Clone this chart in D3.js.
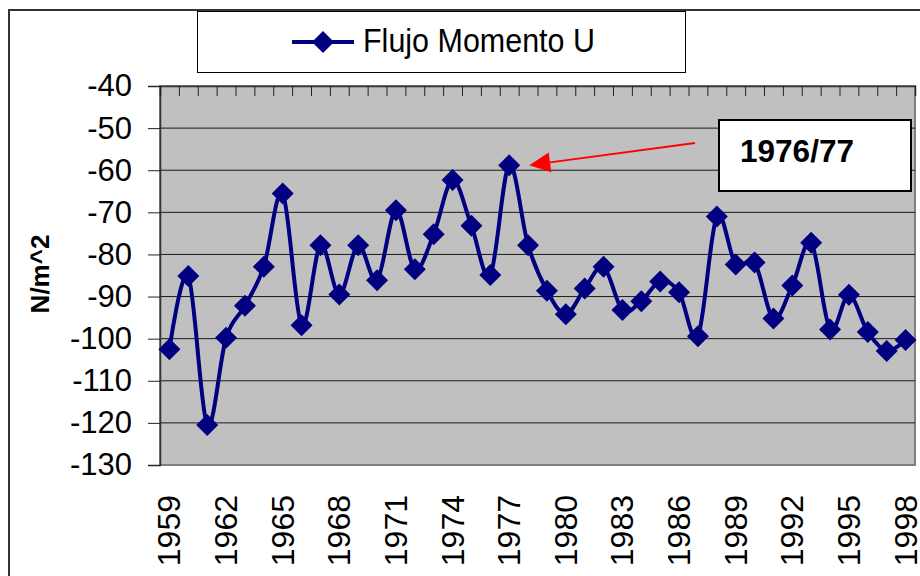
<!DOCTYPE html>
<html>
<head>
<meta charset="utf-8">
<script src="https://cdn.jsdelivr.net/npm/d3@7"></script>
<style>
  html, body { margin: 0; padding: 0; background: #fff; }
  svg { display: block; font-family: "Liberation Sans", Arial, sans-serif; }
</style>
</head>
<body>
<svg id="chart" width="920" height="576"></svg>
<script>
// Annual momentum flux (U component), N/m^2
const years = d3.range(1959, 1999);
const fluxU = [
  -102.5, -85.1, -120.5, -99.8, -92.2, -82.9, -65.5, -96.8, -77.8, -89.5,
  -77.8, -86.1, -69.5, -83.5, -75.2, -62.3, -73.2, -84.9, -58.8, -77.8,
  -88.6, -94.2, -88.1, -82.9, -93.2, -91.1, -86.4, -89.0, -99.4, -71.0,
  -82.4, -81.9, -95.2, -87.4, -77.2, -97.8, -89.6, -98.4, -102.9, -100.3
];
const yTicks = [-40, -50, -60, -70, -80, -90, -100, -110, -120, -130];
const xLabelYears = [1959, 1962, 1965, 1968, 1971, 1974, 1977, 1980, 1983, 1986, 1989, 1992, 1995, 1998];
const seriesName = "Flujo Momento U";
const yTitle = "N/m^2";
const noteText = "1976/77";
const noteYear = 1977;

const svg = d3.select("#chart");
const plot = { left: 160, right: 915, top: 86, bottom: 465 };

const x = d3.scaleBand().domain(years).range([plot.left, plot.right]).padding(0);
const xEdge = d3.scaleLinear().domain([0, years.length]).range([plot.left, plot.right]);
const y = d3.scaleLinear().domain([-130, -40]).range([plot.bottom, plot.top]);
const cx = yr => x(yr) + x.bandwidth() / 2;

// outer chart frame
svg.append("path")
  .attr("d", "M9,580 V10 H925")
  .attr("fill", "none").attr("stroke", "#333").attr("stroke-width", 2);

// plot area
svg.append("rect")
  .attr("x", plot.left).attr("y", plot.top)
  .attr("width", plot.right - plot.left).attr("height", plot.bottom - plot.top)
  .attr("fill", "#c0c0c0").attr("stroke", "#808080").attr("stroke-width", 2);

// horizontal gridlines
svg.append("g").selectAll("line")
  .data(yTicks.filter(v => v !== -40 && v !== -130))
  .join("line")
  .attr("x1", plot.left).attr("x2", plot.right)
  .attr("y1", d => y(d)).attr("y2", d => y(d))
  .attr("stroke", "#1a1a1a").attr("stroke-width", 1);

// value axis
const yAxis = svg.append("g")
  .attr("transform", `translate(${plot.left},0)`)
  .call(d3.axisLeft(y).tickValues(yTicks).tickSize(12).tickPadding(16).tickFormat(d3.format("d")));
yAxis.select(".domain").attr("stroke", "#333").attr("stroke-width", 1.5);
yAxis.selectAll(".tick line").attr("stroke", "#222");
yAxis.selectAll("text")
  .attr("font-size", 31).attr("fill", "#000")
  .attr("font-family", "'Liberation Sans', Arial, sans-serif")
  .text(d => d3.format("d")(d).replace("\u2212", "-"));

// category axis crosses at the top of the plot
const xAxis = svg.append("g")
  .attr("transform", `translate(0,${plot.top})`)
  .call(d3.axisTop(xEdge).tickValues(d3.range(0, years.length + 1)).tickSize(-10).tickFormat(""));
xAxis.select(".domain").attr("stroke", "#333").attr("stroke-width", 1.5);
xAxis.selectAll(".tick line").attr("stroke", "#222");

// category labels, placed below the plot
svg.append("g").selectAll("text")
  .data(xLabelYears)
  .join("text")
  .attr("transform", d => `translate(${cx(d)},495) rotate(-90)`)
  .attr("text-anchor", "end")
  .attr("dominant-baseline", "central")
  .attr("font-size", 32)
  .attr("fill", "#000")
  .text(d => d);

// axis title
svg.append("text")
  .attr("transform", "translate(40,274) rotate(-90)")
  .attr("text-anchor", "middle")
  .attr("dominant-baseline", "central")
  .attr("font-size", 26)
  .attr("font-weight", "bold")
  .text(yTitle);

// series line (smoothed)
const data = years.map((yr, i) => ({ yr, v: fluxU[i] }));
const line = d3.line()
  .x(d => cx(d.yr)).y(d => y(d.v))
  .curve(d3.curveCatmullRom.alpha(0));
svg.append("path")
  .datum(data)
  .attr("d", line)
  .attr("fill", "none")
  .attr("stroke", "#000080")
  .attr("stroke-width", 4)
  .attr("stroke-linejoin", "round");

// diamond markers
const diamond = r => `M0,${-r} L${r},0 L0,${r} L${-r},0 Z`;
svg.append("g").selectAll("path")
  .data(data)
  .join("path")
  .attr("transform", d => `translate(${cx(d.yr)},${y(d.v)})`)
  .attr("d", diamond(11))
  .attr("fill", "#000080");

// legend
const lg = svg.append("g");
lg.append("rect")
  .attr("x", 197.5).attr("y", 11.5).attr("width", 488).attr("height", 61)
  .attr("fill", "#fff").attr("stroke", "#000").attr("stroke-width", 1);
lg.append("line")
  .attr("x1", 292).attr("x2", 354).attr("y1", 42).attr("y2", 42)
  .attr("stroke", "#000080").attr("stroke-width", 4);
lg.append("path")
  .attr("transform", "translate(323,42)")
  .attr("d", diamond(11))
  .attr("fill", "#000080");
lg.append("text")
  .attr("x", 363).attr("y", 52)
  .attr("font-size", 33)
  .attr("textLength", 232)
  .attr("lengthAdjust", "spacingAndGlyphs")
  .text(seriesName);

// annotation arrow
const noteV = fluxU[years.indexOf(noteYear)];
const tip = [cx(noteYear) + 20, y(noteV)];
const tail = [695, 143];
const ang = Math.atan2(tail[1] - tip[1], tail[0] - tip[0]);
const hl = 21, hw = 10;
const bx = tip[0] + hl * Math.cos(ang), by = tip[1] + hl * Math.sin(ang);
svg.append("line")
  .attr("x1", tail[0]).attr("y1", tail[1]).attr("x2", bx).attr("y2", by)
  .attr("stroke", "#ff0000").attr("stroke-width", 1.8);
svg.append("path")
  .attr("d", `M${tip[0]},${tip[1]} L${bx - hw * Math.sin(ang)},${by + hw * Math.cos(ang)} L${bx + hw * Math.sin(ang)},${by - hw * Math.cos(ang)} Z`)
  .attr("fill", "#ff0000");

// annotation box
svg.append("rect")
  .attr("x", 719).attr("y", 120).attr("width", 192).attr("height", 71)
  .attr("fill", "#fff").attr("stroke", "#000").attr("stroke-width", 2);
svg.append("text")
  .attr("x", 740).attr("y", 162)
  .attr("font-size", 32).attr("font-weight", "bold")
  .attr("textLength", 114)
  .attr("lengthAdjust", "spacingAndGlyphs")
  .text(noteText);
</script>
</body>
</html>
